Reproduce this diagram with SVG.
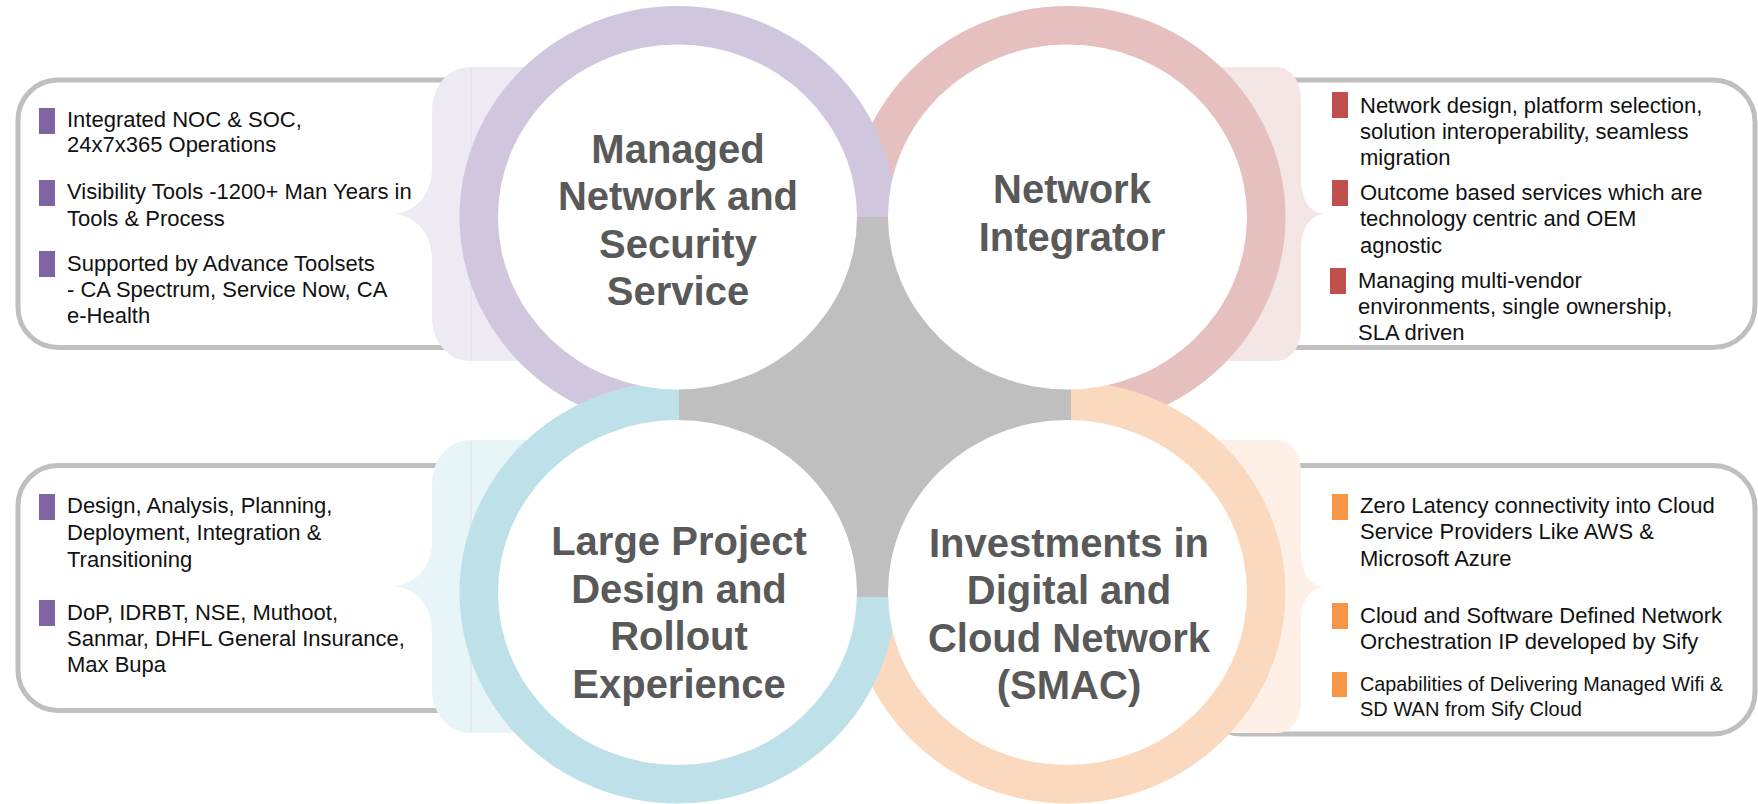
<svg xmlns="http://www.w3.org/2000/svg" width="1758" height="804" viewBox="0 0 1758 804">
<style>
.box{fill:#fff;stroke:#BFBFBF;stroke-width:5}
.title{font-family:"Liberation Sans",Arial,sans-serif;font-weight:bold;font-size:40px;fill:#595959;text-anchor:middle}
.txt{font-family:"Liberation Sans",Arial,sans-serif;font-size:22px;fill:#111}
.sm{font-size:21px}
.bp{fill:#8064A2}.br{fill:#C0504D}.bo{fill:#F79646}
.inner{fill:#fff}
.seam{stroke:#E1DCE8;stroke-width:1}
</style>
<rect width="1758" height="804" fill="#fff"/>

<g id="box-managed">
<rect class="box" x="18" y="80" width="520" height="267.5" rx="40"/>
<rect class="bp" x="39" y="108" width="16" height="26"/>
<rect class="bp" x="39" y="180" width="16" height="26"/>
<rect class="bp" x="39" y="251" width="16" height="26"/>
<text class="txt" x="67" y="127">Integrated NOC &amp; SOC,</text>
<text class="txt" x="67" y="152">24x7x365 Operations</text>
<text class="txt" x="67" y="199">Visibility Tools -1200+ Man Years in</text>
<text class="txt" x="67" y="226">Tools &amp; Process</text>
<text class="txt" x="67" y="271">Supported by Advance Toolsets</text>
<text class="txt" x="67" y="297">- CA Spectrum, Service Now, CA</text>
<text class="txt" x="67" y="323">e-Health</text>
</g>

<g id="box-integrator">
<rect class="box" x="1200" y="80" width="555" height="267.5" rx="42"/>
<rect class="br" x="1332" y="92" width="16" height="26"/>
<rect class="br" x="1332" y="180" width="16" height="26"/>
<rect class="br" x="1330" y="268" width="16" height="26"/>
<text class="txt" x="1360" y="113">Network design, platform selection,</text>
<text class="txt" x="1360" y="139">solution interoperability, seamless</text>
<text class="txt" x="1360" y="165">migration</text>
<text class="txt" x="1360" y="200">Outcome based services which are</text>
<text class="txt" x="1360" y="226">technology centric and OEM</text>
<text class="txt" x="1360" y="253">agnostic</text>
<text class="txt" x="1358" y="288">Managing multi-vendor</text>
<text class="txt" x="1358" y="314">environments, single ownership,</text>
<text class="txt" x="1358" y="340">SLA driven</text>
</g>

<g id="box-project">
<rect class="box" x="18" y="465.5" width="520" height="245" rx="40"/>
<rect class="bp" x="39" y="494" width="16" height="26"/>
<rect class="bp" x="39" y="600" width="16" height="26"/>
<text class="txt" x="67" y="513">Design, Analysis, Planning,</text>
<text class="txt" x="67" y="540">Deployment, Integration &amp;</text>
<text class="txt" x="67" y="567">Transitioning</text>
<text class="txt" x="67" y="620">DoP, IDRBT, NSE, Muthoot,</text>
<text class="txt" x="67" y="646">Sanmar, DHFL General Insurance,</text>
<text class="txt" x="67" y="672">Max Bupa</text>
</g>

<g id="box-cloud">
<rect class="box" x="1200" y="465.5" width="555" height="268.5" rx="42"/>
<rect class="bo" x="1332" y="494" width="16" height="26"/>
<rect class="bo" x="1332" y="603" width="16" height="26"/>
<rect class="bo" x="1332" y="672" width="15" height="25"/>
<text class="txt" x="1360" y="513">Zero Latency connectivity into Cloud</text>
<text class="txt" x="1360" y="539">Service Providers Like AWS &amp;</text>
<text class="txt" x="1360" y="566">Microsoft Azure</text>
<text class="txt" x="1360" y="623">Cloud and Software Defined Network</text>
<text class="txt" x="1360" y="649">Orchestration IP developed by Sify</text>
<text class="txt sm" x="1360" y="691" textLength="363" lengthAdjust="spacingAndGlyphs">Capabilities of Delivering Managed Wifi &amp;</text>
<text class="txt sm" x="1360" y="716" textLength="222" lengthAdjust="spacingAndGlyphs">SD WAN from Sify Cloud</text>
</g>

<g id="connectors">
<path fill="#EEEAF3" d="M471,67 C450,67 432,84 432,112 L432,168 C432,196 414,213 393,214 C414,215 432,232 432,260 L432,316 C432,344 450,361 471,361 L640,361 L640,67 Z"/>
<line class="seam" x1="471" y1="68" x2="471" y2="360"/>
<path fill="#F5E6E6" d="M1276,67 C1290,67 1301,80 1301,100 L1301,178 C1301,200 1310,213 1325,214 C1310,215 1301,228 1301,250 L1301,328 C1301,348 1290,361 1276,361 L1120,361 L1120,67 Z"/>
<path fill="#E7F4F8" d="M471,440 C450,440 432,457 432,485 L432,541 C432,569 414,585 393,586 C414,587 432,603 432,631 L432,688 C432,716 450,733 471,733 L640,733 L640,440 Z"/>
<line class="seam" x1="471" y1="441" x2="471" y2="732" stroke="#DCEBF0" stroke-width="1"/>
<path fill="#FEF0E6" d="M1277,440 C1291,440 1301,453 1301,473 L1301,551 C1301,573 1310,586 1325,587 C1310,588 1301,601 1301,623 L1301,700 C1301,720 1291,733 1277,733 L1120,733 L1120,440 Z"/>
</g>

<g id="rings">
<ellipse id="ring-integrator" cx="1067.5" cy="217" rx="218" ry="211" fill="#E6BFBF"/>
<ellipse id="ring-managed" cx="677.5" cy="217" rx="218" ry="211" fill="#D0C7DE"/>
<ellipse id="ring-cloud" cx="1067.5" cy="592.5" rx="218" ry="211" fill="#FAD9BE"/>
<ellipse id="ring-project" cx="677.5" cy="592.5" rx="218" ry="211" fill="#BEE0E8"/>
</g>

<rect id="center" x="679" y="217" width="392" height="380" fill="#BFBFBF"/>

<g id="node-managed">
<ellipse class="inner" cx="677.5" cy="217" rx="179.5" ry="172.5"/>
<text class="title" x="678" y="163">Managed</text>
<text class="title" x="678" y="210">Network and</text>
<text class="title" x="678" y="258">Security</text>
<text class="title" x="678" y="305">Service</text>
</g>

<g id="node-integrator">
<ellipse class="inner" cx="1067.5" cy="217" rx="179.5" ry="172.5"/>
<text class="title" x="1072" y="203">Network</text>
<text class="title" x="1072" y="251">Integrator</text>
</g>

<g id="node-project">
<ellipse class="inner" cx="677.5" cy="592.5" rx="179.5" ry="172.5"/>
<text class="title" x="679" y="555">Large Project</text>
<text class="title" x="679" y="603">Design and</text>
<text class="title" x="679" y="650">Rollout</text>
<text class="title" x="679" y="698">Experience</text>
</g>

<g id="node-cloud">
<ellipse class="inner" cx="1067.5" cy="592.5" rx="179.5" ry="172.5"/>
<text class="title" x="1069" y="557">Investments in</text>
<text class="title" x="1069" y="604">Digital and</text>
<text class="title" x="1069" y="652">Cloud Network</text>
<text class="title" x="1069" y="699">(SMAC)</text>
</g>
</svg>
